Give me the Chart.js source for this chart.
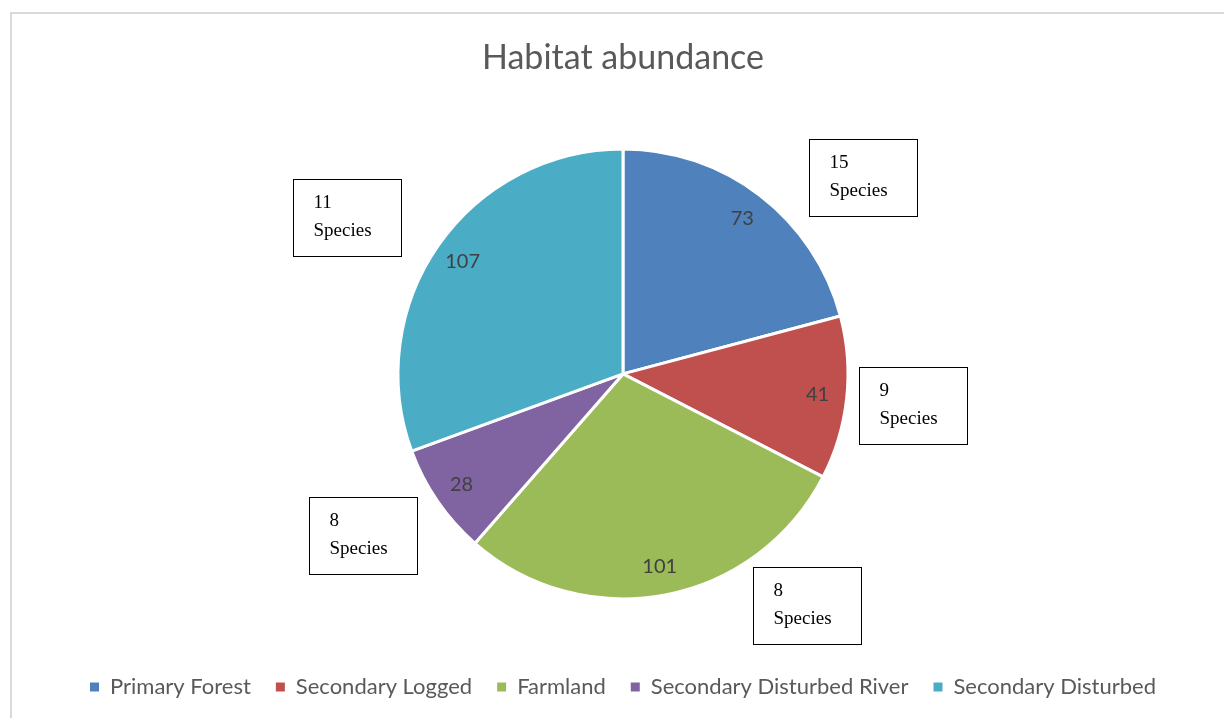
<!DOCTYPE html>
<html>
<head>
<meta charset="utf-8">
<script src="https://cdn.jsdelivr.net/npm/chart.js@4.4.0/dist/chart.umd.min.js"></script>
<style>
    html, body { margin: 0; padding: 0; background: #fff; overflow: hidden; }
    #frame {
        position: absolute; left: 10px; top: 12px;
        width: 1230px; height: 706px;
        border-left: 2px solid #d9d9d9; border-top: 2px solid #d9d9d9;
    }
    #frame canvas { display: block; }
</style>
</head>
<body>
<div id="frame"><canvas id="habitatChart" width="1222" height="706"></canvas></div>
<script>
const habitats = ['Primary Forest', 'Secondary Logged', 'Farmland', 'Secondary Disturbed River', 'Secondary Disturbed'];
const abundance = [73, 41, 101, 28, 107];
const speciesCount = [15, 9, 8, 8, 11];
const sliceColors = ['#4F81BD', '#C0504D', '#9BBB59', '#8064A2', '#4BACC6'];
// where each "N Species" callout box sits, as offset of its centre from the pie centre
const calloutOffsets = [[240, -196], [290, 32], [184, 232], [-260, 162], [-276, -156]];

document.addEventListener("DOMContentLoaded", () => {
    const ctx = document.getElementById('habitatChart').getContext('2d');

    const sliceLabels = {
        id: 'sliceLabels',
        afterDatasetsDraw(chart) {
            const c = chart.ctx;
            const meta = chart.getDatasetMeta(0);
            c.save();
            c.font = '20px Lato';
            c.fillStyle = '#404040';
            c.textAlign = 'center';
            c.textBaseline = 'middle';
            meta.data.forEach((arc, i) => {
                const p = arc.getProps(['x', 'y', 'startAngle', 'endAngle', 'outerRadius']);
                const mid = (p.startAngle + p.endAngle) / 2;
                const r = p.outerRadius * 0.87;
                c.fillText(String(abundance[i]), p.x + Math.cos(mid) * r, p.y + Math.sin(mid) * r);
            });
            c.restore();
        }
    };

    const speciesBoxes = {
        id: 'speciesBoxes',
        afterDraw(chart) {
            const c = chart.ctx;
            const arc = chart.getDatasetMeta(0).data[0];
            const w = 108, h = 77;
            c.save();
            speciesCount.forEach((n, i) => {
                const cx = arc.x + calloutOffsets[i][0];
                const cy = arc.y + calloutOffsets[i][1];
                const left = Math.round(cx - w / 2) + 0.5;
                const top = Math.round(cy - h / 2) + 0.5;
                c.fillStyle = '#fff';
                c.fillRect(left, top, w, h);
                c.strokeStyle = '#000';
                c.lineWidth = 1;
                c.strokeRect(left, top, w, h);
                c.fillStyle = '#000';
                c.font = '19px "Liberation Serif"';
                c.textAlign = 'left';
                c.textBaseline = 'middle';
                c.fillText(String(n), left + 20, top + 24);
                c.fillText('Species', left + 20, top + 52);
            });
            c.restore();
        }
    };

    new Chart(ctx, {
        type: 'pie',
        data: {
            labels: habitats,
            datasets: [{
                data: abundance,
                backgroundColor: sliceColors,
                borderColor: '#ffffff',
                borderWidth: 3,
                radius: 225
            }]
        },
        options: {
            responsive: false,
            animation: false,
            layout: { padding: { bottom: 12, left: 0 } },
            plugins: {
                title: {
                    display: true,
                    text: 'Habitat abundance',
                    color: '#595959',
                    font: { family: 'Lato', size: 34, weight: 'normal' },
                    padding: { top: 24, bottom: 18 }
                },
                legend: {
                    position: 'bottom',
                    labels: {
                        color: '#595959',
                        font: { family: 'Lato', size: 22 },
                        boxWidth: 9,
                        boxHeight: 9,
                        padding: 25,
                        generateLabels(chart) {
                            const items = Chart.overrides.pie.plugins.legend.labels.generateLabels(chart);
                            items.forEach(it => { it.lineWidth = 0; it.strokeStyle = it.fillStyle; });
                            return items;
                        }
                    }
                },
                tooltip: { enabled: false }
            }
        },
        plugins: [sliceLabels, speciesBoxes]
    });
});
</script>
</body>
</html>
